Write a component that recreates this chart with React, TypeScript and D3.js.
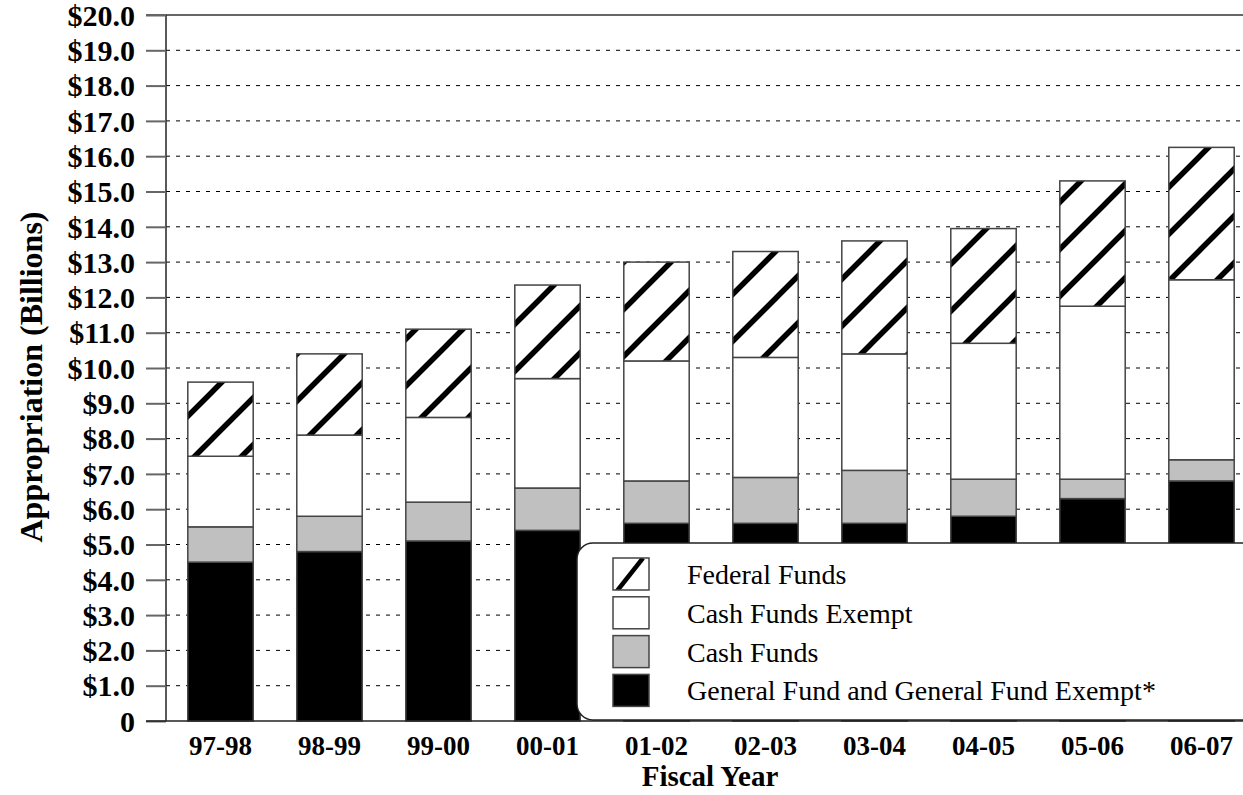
import React, { useEffect, useRef } from 'react';
import * as d3 from 'd3';

const W = 1243;
const H = 795;
const MARGIN = { top: 15, right: -13, bottom: 74, left: 166 };

const years = ['97-98', '98-99', '99-00', '00-01', '01-02', '02-03', '03-04', '04-05', '05-06', '06-07'];
const generalFund = [4.5, 4.8, 5.1, 5.4, 5.6, 5.6, 5.6, 5.8, 6.3, 6.8];
const cashFunds = [1.0, 1.0, 1.1, 1.2, 1.2, 1.3, 1.5, 1.05, 0.55, 0.6];
const cashFundsExempt = [2.0, 2.3, 2.4, 3.1, 3.4, 3.4, 3.3, 3.85, 4.9, 5.1];
const federalFunds = [2.1, 2.3, 2.5, 2.65, 2.8, 3.0, 3.2, 3.25, 3.55, 3.75];
const yTicks = d3.range(0, 21, 1);

const seriesKeys = ['gf', 'cf', 'cfe', 'ff'];
const legendItems = [
    { key: 'ff', label: 'Federal Funds' },
    { key: 'cfe', label: 'Cash Funds Exempt' },
    { key: 'cf', label: 'Cash Funds' },
    { key: 'gf', label: 'General Fund and General Fund Exempt*' },
];
const fills: Record<string, string> = { gf: '#000000', cf: '#c0c0c0', cfe: '#ffffff', ff: 'url(#hatch)' };

const FONT = "Liberation Serif, DejaVu Serif, serif";

export default function App() {
    const svgRef = useRef<SVGSVGElement>(null);

    useEffect(() => {
        if (!svgRef.current) return;
        const svg = d3.select(svgRef.current);
        svg.selectAll('*').remove();

        // hatch pattern for federal funds
        const defs = svg.append('defs');
        const pat = defs.append('pattern')
            .attr('id', 'hatch')
            .attr('patternUnits', 'userSpaceOnUse')
            .attr('width', 47).attr('height', 47);
        pat.append('rect').attr('width', 47).attr('height', 47).attr('fill', 'white');
        pat.append('path')
            .attr('d', 'M-6,6 L6,-6 M0,47 L47,0 M41,53 L53,41')
            .attr('stroke', 'black').attr('stroke-width', 5.5);

        const legPat = defs.append('pattern')
            .attr('id', 'hatchLegend')
            .attr('patternUnits', 'userSpaceOnUse')
            .attr('x', 613).attr('y', 558)
            .attr('width', 36).attr('height', 33);
        legPat.append('rect').attr('width', 36).attr('height', 33).attr('fill', 'white');
        legPat.append('path').attr('d', 'M4,33 L30,0').attr('stroke', 'black').attr('stroke-width', 4.5);

        const width = W - MARGIN.left - MARGIN.right;
        const height = H - MARGIN.top - MARGIN.bottom;
        const g = svg.append('g').attr('transform', `translate(${MARGIN.left},${MARGIN.top})`);

        const x = d3.scaleBand().domain(years).range([0, width]).paddingInner(0.4).paddingOuter(0.2);
        const y = d3.scaleLinear().domain([0, 20]).range([height, 0]);

        // dashed grid
        g.selectAll('line.grid').data(yTicks.filter(t => t > 0 && t < 20)).enter()
            .append('line')
            .attr('x1', 0).attr('x2', width)
            .attr('y1', d => y(d)).attr('y2', d => y(d))
            .attr('stroke', '#000').attr('stroke-width', 1)
            .attr('stroke-dasharray', '4,6');

        // top frame line
        g.append('line')
            .attr('x1', -20).attr('x2', width)
            .attr('y1', y(20)).attr('y2', y(20))
            .attr('stroke', '#333').attr('stroke-width', 1.5);

        // stacked data
        const rows = years.map((yr, i) => ({
            year: yr, gf: generalFund[i], cf: cashFunds[i], cfe: cashFundsExempt[i], ff: federalFunds[i],
        }));
        const stack = d3.stack<any>().keys(seriesKeys);
        const layers = stack(rows);

        layers.forEach(layer => {
            g.append('g').selectAll('rect').data(layer).enter()
                .append('rect')
                .attr('x', d => x(d.data.year)!)
                .attr('width', x.bandwidth())
                .attr('y', d => y(d[1]))
                .attr('height', d => y(d[0]) - y(d[1]))
                .attr('fill', fills[layer.key])
                .attr('stroke', '#444')
                .attr('stroke-width', 1.5);
        });

        // y axis
        const yAxis = g.append('g')
            .call(d3.axisLeft(y).tickValues(yTicks).tickSize(20).tickPadding(11)
                .tickFormat(d => (d === 0 ? '0' : `$${(+d).toFixed(1)}`)));
        yAxis.attr('font-family', FONT).attr('font-size', 30).attr('font-weight', 'bold');
        yAxis.select('.domain').attr('stroke', '#222').attr('stroke-width', 1.5).attr('d', `M0,0V${height}`);
        yAxis.selectAll('.tick line').attr('stroke', '#666').attr('stroke-width', 2);
        yAxis.selectAll('text').attr('fill', '#000').attr('dy', '0.34em');

        // x axis
        const xAxis = g.append('g')
            .attr('transform', `translate(0,${height})`)
            .call(d3.axisBottom(x).tickSize(0).tickPadding(15));
        xAxis.attr('font-family', FONT).attr('font-size', 27).attr('font-weight', 'bold');
        xAxis.select('.domain').attr('stroke', '#222').attr('stroke-width', 1.5).attr('d', `M-20,0H${width}`);
        xAxis.selectAll('text').attr('fill', '#000');

        // axis titles
        svg.append('text')
            .attr('x', 710).attr('y', 786)
            .attr('text-anchor', 'middle')
            .attr('font-family', FONT).attr('font-size', 29).attr('font-weight', 'bold')
            .text('Fiscal Year');

        svg.append('text')
            .attr('transform', 'rotate(-90)')
            .attr('x', -377).attr('y', 42)
            .attr('text-anchor', 'middle')
            .attr('font-family', FONT).attr('font-size', 32).attr('font-weight', 'bold')
            .text('Appropriation (Billions)');

        // legend
        const leg = svg.append('g');
        leg.append('rect')
            .attr('x', 577).attr('y', 543)
            .attr('width', 690).attr('height', 177)
            .attr('rx', 16).attr('ry', 16)
            .attr('fill', 'white').attr('stroke', '#222').attr('stroke-width', 1.5);

        legendItems.forEach((item, i) => {
            const yy = 558 + i * 38.8;
            leg.append('rect')
                .attr('x', 613).attr('y', yy)
                .attr('width', 36).attr('height', 32)
                .attr('fill', item.key === 'ff' ? 'url(#hatchLegend)' : fills[item.key])
                .attr('stroke', '#444').attr('stroke-width', 1.5);
            leg.append('text')
                .attr('x', 687).attr('y', yy + 26)
                .attr('font-family', FONT).attr('font-size', 28)
                .text(item.label);
        });
    }, []);

    return (
        <svg ref={svgRef} width={W} height={H}
            style={{ position: 'absolute', left: 0, top: 0, background: 'white', display: 'block' }} />
    );
}
